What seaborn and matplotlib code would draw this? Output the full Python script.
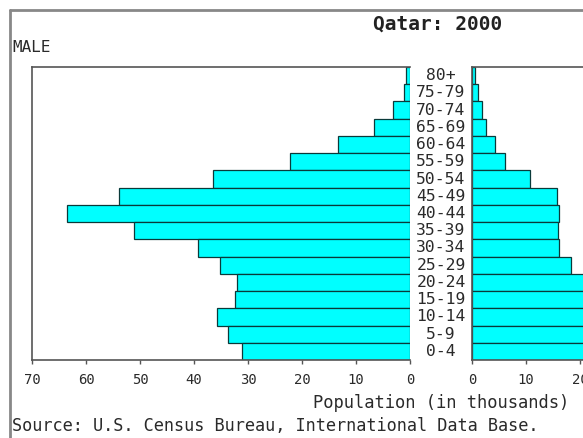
import matplotlib
matplotlib.use("Agg")
import matplotlib.pyplot as plt
import matplotlib.transforms as mtransforms
from matplotlib.lines import Line2D
import pandas as pd
import seaborn as sns

eta = ['80+', '75-79', '70-74', '65-69', '60-64', '55-59', '50-54', '45-49', '40-44',
       '35-39', '30-34', '25-29', '20-24', '15-19', '10-14', '5-9', '0-4']
maschi = [0.7, 1.2, 3.1, 6.6, 13.3, 22.2, 36.5, 53.9, 63.5, 51.1, 39.3, 35.2, 32.0, 32.5, 35.7, 33.7, 31.1]
femmine = [0.6, 1.1, 1.8, 2.5, 4.2, 6.2, 10.7, 15.7, 16.2, 15.9, 16.2, 18.3, 21.5, 22.5, 23.5, 23.0, 22.5]
tick_valori = [0, 10, 20, 30, 40, 50, 60, 70]

titolo = 'Qatar: 2000'
etichetta_sesso = 'MALE'
etichetta_x = 'Population (in thousands)'
fonte = 'Source: U.S. Census Bureau, International Data Base.'

df = pd.DataFrame({'eta': eta, 'maschi': maschi, 'femmine': femmine})

sns.set_style("white")
plt.rcParams['font.family'] = ['DejaVu Sans Mono', 'DejaVu Sans']

fig = plt.figure(figsize=(5.83, 4.38), dpi=100)
W, H = 583, 438

def px_box(x0, y0, x1, y1):
    return [x0 / W, 1 - y1 / H, (x1 - x0) / W, (y1 - y0) / H]

ax_m = fig.add_axes(px_box(32, 67, 410, 360))
ax_f = fig.add_axes(px_box(472, 67, 850, 360))

cyan = '#00FFFF'
bordo = '#0a3a3a'
testo = '#2a2a2a'
spina = '#555555'

sns.barplot(data=df, x='maschi', y='eta', orient='h', color=cyan, saturation=1,
            edgecolor=bordo, linewidth=0.9, width=1, ax=ax_m)
sns.barplot(data=df, x='femmine', y='eta', orient='h', color=cyan, saturation=1,
            edgecolor=bordo, linewidth=0.9, width=1, ax=ax_f)

for ax in (ax_m, ax_f):
    ax.set_xlim(0, 70)
    ax.set_xticks(tick_valori)
    ax.set_xticklabels([str(v) for v in tick_valori], fontsize=10, color=testo)
    ax.set_yticks([])
    ax.set_xlabel('')
    ax.set_ylabel('')
    ax.tick_params(axis='x', direction='out', length=3, width=1, color=spina, pad=6, bottom=True)
    ax.set_ylim(len(eta) - 0.5, -0.5)
    ax.spines['right'].set_visible(False)
    for s in ('left', 'top', 'bottom'):
        ax.spines[s].set_color(spina)
        ax.spines[s].set_linewidth(1.2)

ax_m.set_xlim(70, 0)

# etichette delle classi d'eta' tra i due pannelli
trans = mtransforms.blended_transform_factory(fig.transFigure, ax_m.transData)
for i, e in enumerate(eta):
    fig.text(441 / W, i, e, transform=trans, ha='center', va='center',
             fontsize=11.8, color=testo)

fig.text(373 / W, 1 - 24 / H, titolo, fontsize=14, fontweight='bold',
         ha='left', va='center', color='#222222')
fig.text(12 / W, 1 - 47 / H, etichetta_sesso, fontsize=11.5, ha='left', va='center', color=testo)
fig.text(441 / W, 1 - 403 / H, etichetta_x, fontsize=12.3, ha='center', va='center', color=testo)
fig.text(12 / W, 1 - 426 / H, fonte, fontsize=12.2, ha='left', va='center', color=testo)

# cornice grigia esterna
fig.add_artist(Line2D([10 / W, 10 / W], [0, 1 - 10 / H], transform=fig.transFigure,
                      color='#888888', lw=2))
fig.add_artist(Line2D([10 / W, 1], [1 - 10 / H, 1 - 10 / H], transform=fig.transFigure,
                      color='#888888', lw=2))

fig.savefig('out.png', dpi=100, facecolor='white')
